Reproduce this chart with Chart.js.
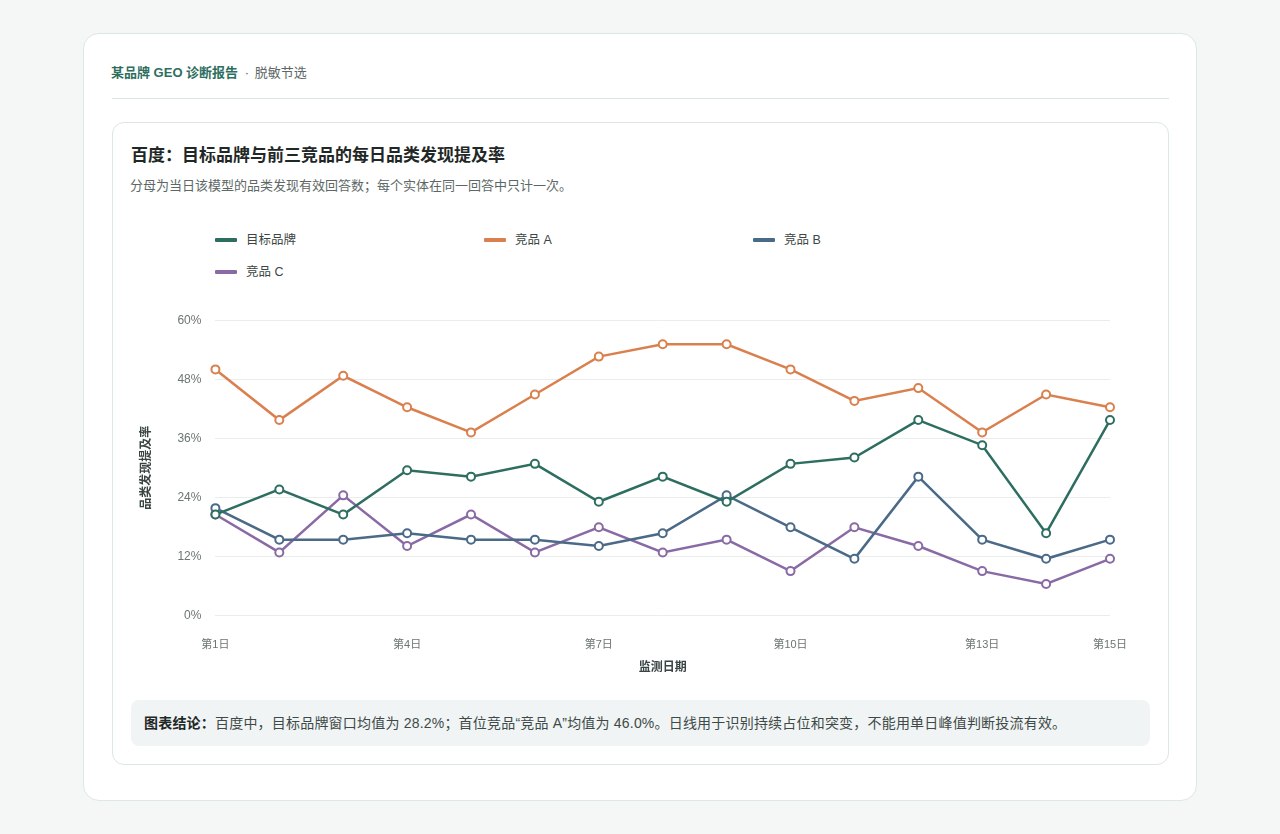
<!DOCTYPE html>
<html lang="zh-CN">
<head>
<meta charset="utf-8">
<title>百度：目标品牌与前三竞品的每日品类发现提及率</title>
<script src="https://cdn.jsdelivr.net/npm/chart.js@4.4.1/dist/chart.umd.min.js"></script>
<style>
  html, body { margin: 0; padding: 0; }
  body {
    width: 1280px; height: 834px; background: #f4f7f6;
    font-family: "Liberation Sans", "Noto Sans CJK SC", sans-serif;
    color: #2b3533; position: relative; overflow: hidden;
  }
  .outer {
    position: absolute; left: 83px; top: 33px; width: 1112px; height: 766px;
    background: #fff; border: 1px solid #dde7e4; border-radius: 16px;
  }
  .crumb {
    position: absolute; left: 27px; top: 30px; font-size: 13px; line-height: 18px; color: #5d6866;
  }
  .crumb b { color: #2e6e60; font-weight: bold; }
  .crumb .dot { margin: 0 2px 0 3px; }
  .divider {
    position: absolute; left: 28px; top: 64px; width: 1057px; height: 1px; background: #d9e6e3;
  }
  .card {
    position: absolute; left: 28px; top: 88px; width: 1055px; height: 641px;
    border: 1px solid #dbe7e4; border-radius: 12px; background: #fff;
  }
  .title {
    position: absolute; left: 18px; top: 21px; font-size: 17px; line-height: 24px;
    font-weight: bold; color: #1f2826;
  }
  .sub {
    position: absolute; left: 17px; top: 54px; font-size: 13px; line-height: 18px; color: #5d6866;
  }
  .legend {
    position: absolute; left: 102px; top: 108px; width: 820px;
    display: grid; grid-template-columns: 269px 269px 269px; row-gap: 14px;
  }
  .legend .item { display: flex; align-items: center; font-size: 12.5px; line-height: 18px; color: #3c4644; }
  .legend .sw { width: 22px; height: 4px; border-radius: 1px; margin-right: 9px; }
  .chartbox {
    position: absolute; left: 19px; top: 176px; width: 1018px; height: 388px;
  }
  .note {
    position: absolute; left: 18px; top: 577px; width: 1019px; height: 46px;
    background: #f0f4f4; border-radius: 8px; font-size: 14px; line-height: 46px;
    color: #3f4a48; box-sizing: border-box; padding-left: 13px; letter-spacing: 0.2px;
  }
  .note b { color: #1f2826; }
</style>
</head>
<body>
<div class="outer">
  <div class="crumb"><b>某品牌 GEO 诊断报告</b><span class="dot"> · </span>脱敏节选</div>
  <div class="divider"></div>
  <div class="card">
    <div class="title">百度：目标品牌与前三竞品的每日品类发现提及率</div>
    <div class="sub">分母为当日该模型的品类发现有效回答数；每个实体在同一回答中只计一次。</div>
    <div class="legend" id="legend"></div>
    <div class="chartbox"><canvas id="myChart"></canvas></div>
    <div class="note"><b>图表结论：</b>百度中，目标品牌窗口均值为 28.2%；首位竞品“竞品 A”均值为 46.0%。日线用于识别持续占位和突变，不能用单日峰值判断投流有效。</div>
  </div>
</div>

<script>
var days = ["第1日", "第2日", "第3日", "第4日", "第5日", "第6日", "第7日", "第8日",
  "第9日", "第10日", "第11日", "第12日", "第13日", "第14日", "第15日"];
var seriesNames = ["目标品牌", "竞品 A", "竞品 B", "竞品 C"];
var targetBrand = [20.5, 25.6, 20.5, 29.5, 28.2, 30.8, 23.1, 28.2, 23.1, 30.8, 32.1, 39.7, 34.6, 16.7, 39.7];
var rivalA = [50.0, 39.7, 48.7, 42.3, 37.2, 44.9, 52.6, 55.1, 55.1, 50.0, 43.6, 46.2, 37.2, 44.9, 42.3];
var rivalB = [21.8, 15.4, 15.4, 16.7, 15.4, 15.4, 14.1, 16.7, 24.4, 17.9, 11.5, 28.2, 15.4, 11.5, 15.4];
var rivalC = [20.5, 12.8, 24.4, 14.1, 20.5, 12.8, 17.9, 12.8, 15.4, 9.0, 17.9, 14.1, 9.0, 6.4, 11.5];
var yTicks = [0, 12, 24, 36, 48, 60];
var colors = ["#2e6e60", "#d9804e", "#4a6a88", "#8a6aa5"];

var fontFamily = '"Liberation Sans", "Noto Sans CJK SC", sans-serif';
var allSeries = [targetBrand, rivalA, rivalB, rivalC];

// html legend, laid out in fixed columns
var legendEl = document.getElementById("legend");
seriesNames.forEach(function (name, i) {
  var item = document.createElement("div");
  item.className = "item";
  item.innerHTML = '<span class="sw" style="background:' + colors[i] + '"></span>' + name;
  legendEl.appendChild(item);
});

var datasets = allSeries.map(function (values, i) {
  return {
    label: seriesNames[i],
    data: values,
    borderColor: colors[i],
    backgroundColor: "#ffffff",
    pointBackgroundColor: "#ffffff",
    pointBorderColor: colors[i],
    pointBorderWidth: 2,
    pointRadius: 4,
    borderWidth: 2.5,
    tension: 0,
    fill: false,
  };
});

var ctx = document.getElementById("myChart").getContext("2d");
var myChart = new Chart(ctx, {
  type: "line",
  data: { labels: days, datasets: datasets },
  options: {
    responsive: true,
    maintainAspectRatio: false,
    animation: false,
    layout: { padding: { top: 18, left: 3, right: 40, bottom: 12 } },
    plugins: { legend: { display: false }, tooltip: { enabled: false } },
    scales: {
      x: {
        // no tick marks drawn, but tickLength still pushes the labels down
        grid: { display: false, drawTicks: true, tickLength: 21 },
        border: { display: false },
        ticks: {
          autoSkip: false,
          maxRotation: 0,
          padding: 2,
          color: "#6b7573",
          font: { family: fontFamily, size: 11 },
          callback: function (value, index) {
            if (index % 3 === 0 || index === days.length - 1) return days[index];
            return "";
          },
        },
        title: {
          display: true,
          text: "监测日期",
          color: "#3a4543",
          padding: { top: 7, bottom: 0 },
          font: { family: fontFamily, size: 12, weight: "bold" },
        },
      },
      y: {
        min: yTicks[0],
        max: yTicks[yTicks.length - 1],
        afterBuildTicks: function (axis) {
          axis.ticks = yTicks.map(function (v) { return { value: v }; });
        },
        grid: { color: "#e9eeed", drawTicks: false, lineWidth: 1 },
        border: { display: false },
        ticks: {
          padding: 14,
          color: "#6b7573",
          font: { family: fontFamily, size: 12 },
          callback: function (value) { return value + "%"; },
        },
        title: {
          display: true,
          text: "品类发现提及率",
          color: "#3a4543",
          padding: { top: 4, bottom: 10 },
          font: { family: fontFamily, size: 12, weight: "bold" },
        },
      },
    },
  },
});
</script>
</body>
</html>
